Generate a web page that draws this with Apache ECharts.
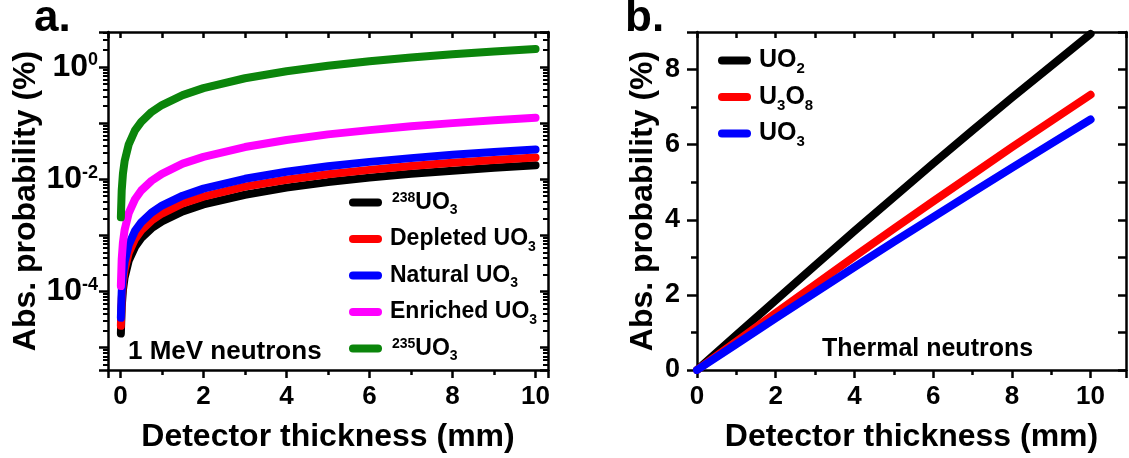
<!DOCTYPE html>
<html><head><meta charset="utf-8">
<script src="https://cdn.jsdelivr.net/npm/echarts@6/dist/echarts.min.js"></script>
<style>html,body{margin:0;padding:0;background:#fff}#c{width:1129px;height:458px}</style>
</head><body><div id="c"></div>
<script>
// ---- Panel a: 1 MeV neutrons (log scale) ----
const xFast = [0.01, 0.03, 0.06, 0.1, 0.2, 0.35, 0.5, 0.75, 1, 1.5, 2, 3, 4, 5, 6, 7, 8, 9, 10];
const u238UO3   = [1.78e-5, 5.3e-5, 1.07e-4, 1.78e-4, 3.56e-4, 6.2e-4, 8.9e-4, 1.34e-3, 1.78e-3, 2.67e-3, 3.56e-3, 5.3e-3, 7.1e-3, 8.9e-3, 0.0107, 0.0125, 0.0142, 0.016, 0.0178];
const depletedUO3 = [2.45e-5, 7.4e-5, 1.47e-4, 2.45e-4, 4.9e-4, 8.6e-4, 1.23e-3, 1.84e-3, 2.45e-3, 3.7e-3, 4.9e-3, 7.4e-3, 9.8e-3, 0.0123, 0.0147, 0.0172, 0.0196, 0.022, 0.0245];
const naturalUO3  = [3.4e-5, 1.0e-4, 2.0e-4, 3.4e-4, 6.8e-4, 1.2e-3, 1.7e-3, 2.55e-3, 3.4e-3, 5.1e-3, 6.8e-3, 0.0102, 0.0136, 0.017, 0.0204, 0.0238, 0.0272, 0.0306, 0.034];
const enrichedUO3 = [1.25e-4, 3.75e-4, 7.5e-4, 1.25e-3, 2.5e-3, 4.4e-3, 6.3e-3, 9.4e-3, 0.0125, 0.019, 0.025, 0.0375, 0.05, 0.063, 0.075, 0.088, 0.1, 0.113, 0.125];
const u235UO3   = [0.0021, 0.0063, 0.0126, 0.021, 0.042, 0.074, 0.105, 0.158, 0.21, 0.315, 0.42, 0.63, 0.84, 1.05, 1.26, 1.47, 1.68, 1.89, 2.1];
const namesA = ['238UO3', 'Depleted UO3', 'Natural UO3', 'Enriched UO3', '235UO3'];
const yTickExpA = [-4, -2, 0];

// ---- Panel b: thermal neutrons ----
const xThermal = [0, 1, 2, 3, 4, 5, 6, 7, 8, 9, 10];
const uo2  = [0, 0.93, 1.86, 2.78, 3.7, 4.6, 5.5, 6.38, 7.25, 8.1, 8.95];
const u3o8 = [0, 0.76, 1.52, 2.27, 3.02, 3.76, 4.49, 5.21, 5.93, 6.63, 7.33];
const uo3  = [0, 0.69, 1.38, 2.06, 2.74, 3.41, 4.07, 4.73, 5.38, 6.03, 6.67];
const namesB = ['UO2', 'U3O8', 'UO3'];

const F = "'Liberation Sans', Arial, Helvetica, sans-serif";
const colorsA = ['#000000', '#ff0000', '#0000ff', '#ff00ff', '#0b850b'];
const colorsB = ['#000000', '#ff0000', '#0000ff'];

function makeRich(main, small, dn, up) {
  return {
    t:   {fontSize: main, fontWeight: 'bold', fontFamily: F, color: '#000'},
    sub: {fontSize: small, fontWeight: 'bold', fontFamily: F, color: '#000', padding: [dn, 0, 0, 0]},
    sup: {fontSize: small, fontWeight: 'bold', fontFamily: F, color: '#000', padding: [0, 0, up, 2]}
  };
}
const legendLabels = {
  '238UO3': '{sup|238}{t|UO}{sub|3}',
  'Depleted UO3': '{t|Depleted UO}{sub|3}',
  'Natural UO3': '{t|Natural UO}{sub|3}',
  'Enriched UO3': '{t|Enriched UO}{sub|3}',
  '235UO3': '{sup|235}{t|UO}{sub|3}',
  'UO2': '{t|UO}{sub|2}',
  'U3O8': '{t|U}{sub|3}{t|O}{sub|8}',
  'UO3': '{t|UO}{sub|3}'
};
const capsule = 'path://M4,0 L29,0 A4,4 0 0 1 29,8 L4,8 A4,4 0 0 1 4,0 Z';

const lineW = 2.5;
const axLine = {show: true, onZero: false, lineStyle: {color: '#000', width: lineW}};
const tickStyle = {color: '#000', width: lineW};
const labelBase = {color: '#000', fontFamily: F, fontWeight: 'bold', fontSize: 26};
const nameStyle = {color: '#000', fontFamily: F, fontWeight: 'bold', fontSize: 32};

function intLabel(maxV) {
  return function (v) {
    const r = Math.round(v);
    return (Math.abs(v - r) < 1e-9 && r >= 0 && r <= maxV && r % 2 === 0) ? String(r) : '';
  };
}
function logLabel(v) {
  const e = Math.log10(v);
  const r = Math.round(e);
  if (Math.abs(e - r) < 1e-6 && yTickExpA.indexOf(r) >= 0) return '{b|10}{s|' + r + '}';
  return '';
}

function makeSeries(name, xs, ys, color, xi, yi) {
  return {
    name: name, type: 'line', xAxisIndex: xi, yAxisIndex: yi,
    data: xs.map((x, i) => [x, ys[i]]),
    showSymbol: false, symbol: 'none', color: color,
    lineStyle: {color: color, width: 8, cap: 'round', join: 'round'},
    itemStyle: {color: color},
    emphasis: {disabled: true}, animation: false, z: 3
  };
}

const chart = echarts.init(document.getElementById('c'), null, {renderer: 'canvas'});
const option = {
  animation: false,
  backgroundColor: '#fff',
  grid: [
    {left: 108, right: 581, top: 32, bottom: 85, containLabel: false},
    {left: 697, right: 2, top: 32, bottom: 85, containLabel: false}
  ],
  xAxis: [
    {gridIndex: 0, type: 'value', min: -0.3, max: 10.3, splitNumber: 5, position: 'bottom',
     axisLine: axLine, axisTick: {show: true, inside: false, length: 8, lineStyle: tickStyle},
     axisLabel: Object.assign({formatter: intLabel(10), margin: 14}, labelBase),
     splitLine: {show: false},
     name: 'Detector thickness (mm)', nameLocation: 'middle', nameGap: 51, nameTextStyle: nameStyle},
    {gridIndex: 0, type: 'value', min: -0.3, max: 10.3, splitNumber: 10, position: 'bottom',
     axisLine: {show: false}, axisTick: {show: true, inside: false, length: 5, lineStyle: tickStyle},
     axisLabel: {show: false}, splitLine: {show: false}},
    {gridIndex: 0, type: 'value', min: -0.3, max: 10.3, splitNumber: 10, position: 'top',
     axisLine: axLine, axisTick: {show: true, inside: true, length: 6, lineStyle: tickStyle},
     axisLabel: {show: false}, splitLine: {show: false}},
    {gridIndex: 1, type: 'value', min: 0, max: 10.9, interval: 2, position: 'bottom',
     axisLine: axLine, axisTick: {show: true, inside: false, length: 8, lineStyle: tickStyle},
     axisLabel: Object.assign({formatter: intLabel(10), margin: 14}, labelBase),
     splitLine: {show: false},
     name: 'Detector thickness (mm)', nameLocation: 'middle', nameGap: 51, nameTextStyle: nameStyle},
    {gridIndex: 1, type: 'value', min: 0, max: 10.9, interval: 1, position: 'bottom',
     axisLine: {show: false}, axisTick: {show: true, inside: false, length: 5, lineStyle: tickStyle},
     axisLabel: {show: false}, splitLine: {show: false}},
    {gridIndex: 1, type: 'value', min: 0, max: 10.9, interval: 1, position: 'top',
     axisLine: axLine, axisTick: {show: true, inside: true, length: 6, lineStyle: tickStyle},
     axisLabel: {show: false}, splitLine: {show: false}}
  ],
  yAxis: [
    {gridIndex: 0, type: 'log', logBase: 10, min: 4e-6, max: 4.2, position: 'left',
     axisLine: axLine, axisTick: {show: true, inside: false, length: 9, lineStyle: tickStyle},
     minorTick: {show: true, splitNumber: 9, length: 5, lineStyle: {color: '#000', width: 2}},
     axisLabel: {formatter: logLabel, margin: 10, rich: {
        b: {fontSize: 32, fontWeight: 'bold', fontFamily: F, color: '#000'},
        s: {fontSize: 18, fontWeight: 'bold', fontFamily: F, color: '#000', padding: [0, 0, 13, 0]}}},
     splitLine: {show: false}, minorSplitLine: {show: false},
     name: 'Abs. probability (%)', nameLocation: 'middle', nameGap: 60, nameTextStyle: nameStyle},
    {gridIndex: 0, type: 'log', logBase: 10, min: 4e-6, max: 4.2, position: 'right',
     axisLine: axLine, axisTick: {show: true, inside: true, length: 8, lineStyle: tickStyle},
     minorTick: {show: true, splitNumber: 9, length: 5, lineStyle: {color: '#000', width: 2}},
     axisLabel: {show: false}, splitLine: {show: false}, minorSplitLine: {show: false}},
    {gridIndex: 1, type: 'value', min: 0, max: 9, interval: 2, position: 'left',
     axisLine: axLine, axisTick: {show: true, inside: false, length: 10, lineStyle: tickStyle},
     axisLabel: Object.assign({formatter: intLabel(8), margin: 17}, labelBase, {fontSize: 27}),
     splitLine: {show: false},
     name: 'Abs. probability (%)', nameLocation: 'middle', nameGap: 38, nameTextStyle: nameStyle},
    {gridIndex: 1, type: 'value', min: 0, max: 9, interval: 1, position: 'left',
     axisLine: {show: false}, axisTick: {show: true, inside: false, length: 6, lineStyle: tickStyle},
     axisLabel: {show: false}, splitLine: {show: false}},
    {gridIndex: 1, type: 'value', min: 0, max: 9, interval: 1, position: 'right',
     axisLine: axLine, axisTick: {show: true, inside: true, length: 8, lineStyle: tickStyle},
     axisLabel: {show: false}, splitLine: {show: false}}
  ],
  legend: [
    {data: namesA, orient: 'vertical', left: 344, top: 186, itemWidth: 33, itemHeight: 9, itemGap: 10,
     z: 20, icon: capsule, selectedMode: false, formatter: n => legendLabels[n],
     textStyle: {rich: makeRich(23, 14, 16, 9), fontFamily: F, padding: [0, 0, 0, 3]}},
    {data: namesB, orient: 'vertical', left: 713, top: 43, itemWidth: 33, itemHeight: 9, itemGap: 8,
     z: 20, icon: capsule, selectedMode: false, formatter: n => legendLabels[n],
     textStyle: {rich: makeRich(25, 15, 17, 10), fontFamily: F, padding: [0, 0, 0, 3]}}
  ],
  graphic: [
    {type: 'text', left: 34, top: -3, style: {text: 'a.', font: 'bold 44px ' + F, fill: '#000'}},
    {type: 'text', left: 625, top: -3, style: {text: 'b.', font: 'bold 44px ' + F, fill: '#000'}},
    {type: 'text', left: 128, top: 339, style: {text: '1 MeV neutrons', font: 'bold 26px ' + F, fill: '#000'}},
    {type: 'text', left: 822, top: 337, style: {text: 'Thermal neutrons', font: 'bold 25px ' + F, fill: '#000'}}
  ],
  series: [
    makeSeries(namesA[0], xFast, u238UO3, colorsA[0], 0, 0),
    makeSeries(namesA[1], xFast, depletedUO3, colorsA[1], 0, 0),
    makeSeries(namesA[2], xFast, naturalUO3, colorsA[2], 0, 0),
    makeSeries(namesA[3], xFast, enrichedUO3, colorsA[3], 0, 0),
    makeSeries(namesA[4], xFast, u235UO3, colorsA[4], 0, 0),
    makeSeries(namesB[0], xThermal, uo2, colorsB[0], 3, 2),
    makeSeries(namesB[1], xThermal, u3o8, colorsB[1], 3, 2),
    makeSeries(namesB[2], xThermal, uo3, colorsB[2], 3, 2)
  ]
};
chart.setOption(option);
</script>
</body></html>
